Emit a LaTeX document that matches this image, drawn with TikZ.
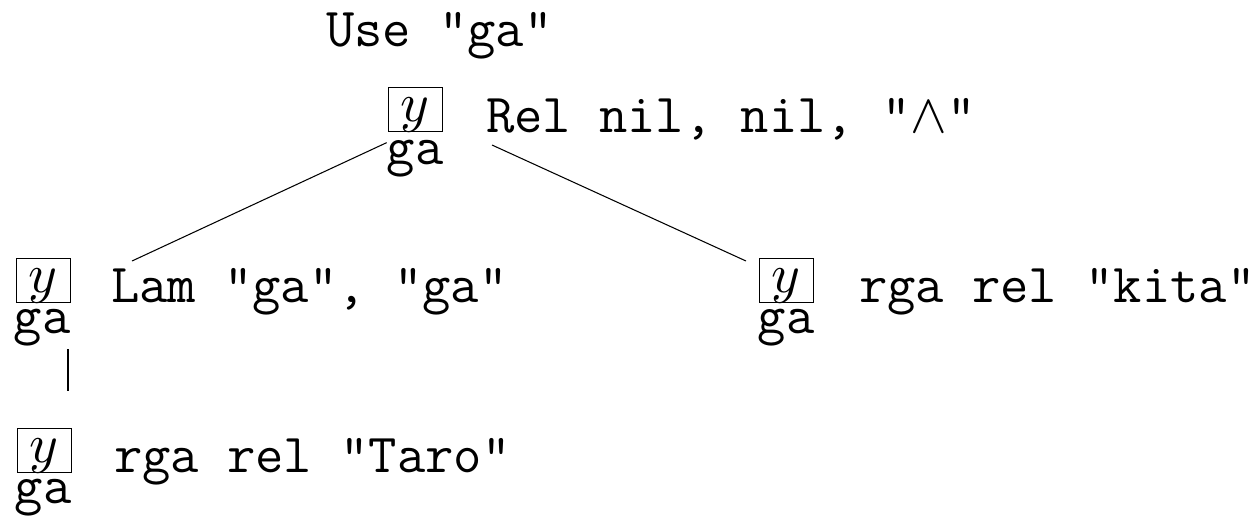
\documentclass[tikz,border=0pt]{standalone}
\usepackage{fontspec}
\usepackage{graphicx}
\usetikzlibrary{calc}
% math glyphs set at 10pt and scaled to the text size
\newcommand\bigmath[1]{\scalebox{3.13}{\fontsize{10}{12}\selectfont$#1$}}
\begin{document}
\begin{tikzpicture}[x=0.02cm,y=-0.02cm,
  every node/.style={inner sep=0pt,outer sep=0pt,font=\fontsize{31.3}{37}\selectfont\ttfamily},
  varbox/.style={draw,line width=0.5pt,minimum width=54*0.02cm,text height=34*0.02cm,text depth=10*0.02cm,anchor=south west},
  gatext/.style={anchor=base},
  lbl/.style={anchor=base west},
  branch/.style={line width=0.6pt}]
\useasboundingbox (0,0) rectangle (1256,515);

% heading
\node[lbl] (use) at (326,46) {Use "ga"};

% root
\node[varbox] (rbox) at (388,131) {\bigmath{y}};
\node[gatext] (rga) at (415,164) {ga};
\node[lbl] (rlbl) at (486,132) {Rel nil, nil, "\bigmath{\wedge}"};

% left child
\node[varbox] (lbox) at (16,302) {\bigmath{y}};
\node[gatext] (lga) at (42,333) {ga};
\node[lbl] (llbl) at (111,302) {Lam "ga", "ga"};

% right child
\node[varbox] (cbox) at (759,302) {\bigmath{y}};
\node[gatext] (cga) at (786,333) {ga};
\node[lbl] (clbl) at (859,302) {rga rel "kita"};

% grandchild
\node[varbox] (bbox) at (17,472) {\bigmath{y}};
\node[gatext] (bga) at (43,503) {ga};
\node[lbl] (blbl) at (114,472) {rga rel "Taro"};

% branches
\draw[branch] ($(rga.north west)+(0,3)$) -- ($(llbl.base west)+(21,-41)$);
\draw[branch] ($(rlbl.base west)+(6,13)$) -- ($(cbox.north west)+(-13,3)$);
\draw[branch] ($(lbox.south east)+(-2,47)$) -- ($(bbox.north east)+(-3,-37)$);
\end{tikzpicture}
\end{document}
